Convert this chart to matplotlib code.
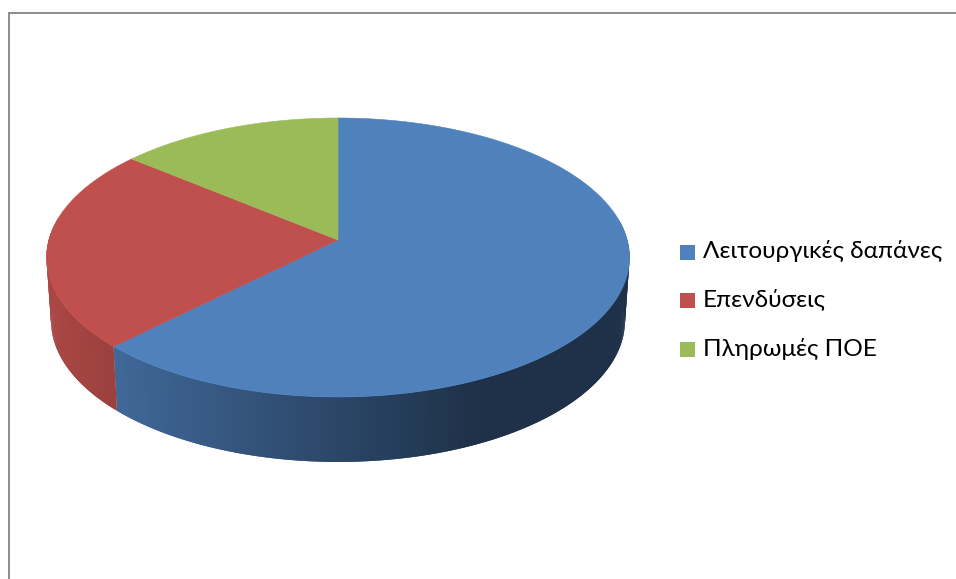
#!/usr/bin/env python3
"""3D style pie chart with a legend on the right"""

import numpy as np
import matplotlib
matplotlib.use('Agg')
import matplotlib.pyplot as plt
from matplotlib.patches import Rectangle

labels = ['Λειτουργικές δαπάνες', 'Επενδύσεις', 'Πληρωμές ΠΟΕ']
values = [62.5, 23.5, 14.0]
colors = ['#4F81BD', '#C0504D', '#9BBB59']

plt.rcParams['font.family'] = ['Lato', 'Open Sans', 'DejaVu Sans']

# perspective of the disc, everything in picture pixels
CX = 338.0
PERSP = -0.1254


def project(theta, radius, y0, yscale):
    # theta runs clockwise from 12 o'clock
    s = np.sin(theta)
    t = -np.cos(theta)
    d = 1 + PERSP * t
    return CX + radius * s / d, y0 + yscale * t / d


def top_edge(theta):
    return project(theta, 289.2, 240.0, 137.3)


def bottom_edge(theta):
    return project(theta, 284.7, 303.0, 139.0)


def shade(x):
    # side wall gets darker from left to right
    return np.clip(0.88 - (x - 52) * 0.00117, 0.38, 0.88)


fig = plt.figure(figsize=(9.56, 5.79), dpi=100)
ax = fig.add_axes([0, 0, 1, 1])
ax.set_xlim(0, 956)
ax.set_ylim(579, 0)
ax.axis('off')

# chart frame, the right and bottom sides are cut off
ax.plot([9.5, 9.5, 956], [579, 13, 13], color='#8C8C8C', lw=1.4, solid_joinstyle='miter')

edges = np.cumsum([0] + values) / sum(values) * 2 * np.pi

# side walls, each strip overlaps the next one so no seams show
for i, color in enumerate(colors):
    base = np.array(matplotlib.colors.to_rgb(color))
    steps = np.linspace(edges[i], edges[i + 1], int(values[i] * 6) + 2)
    for j in range(len(steps) - 1):
        a = steps[j]
        b = steps[min(j + 2, len(steps) - 1)]
        if -np.cos(a) < -0.15:
            continue
        xa, ya = top_edge(a)
        xb, yb = top_edge(b)
        xc, yc = bottom_edge(b)
        xd, yd = bottom_edge(a)
        c = base * shade(xa)
        ax.fill([xa, xb, xc, xd], [ya, yb, yc, yd], color=c, lw=0)

# top face
for i, color in enumerate(colors):
    theta = np.linspace(edges[i], edges[i + 1], 200)
    x, y = top_edge(theta)
    ax.fill(np.r_[CX, x], np.r_[240.0, y], color=color, lw=0.4)

# legend
legend_y = [252.5, 300.5, 349.5]
for label, color, y in zip(labels, colors, legend_y):
    ax.add_patch(Rectangle((680, y - 7.5), 15, 15, facecolor=color, edgecolor='none'))
    ax.text(703, y + 6, label, fontsize=17.6, color='black', ha='left', va='baseline')

fig.savefig('out.png', dpi=100, facecolor='white')
